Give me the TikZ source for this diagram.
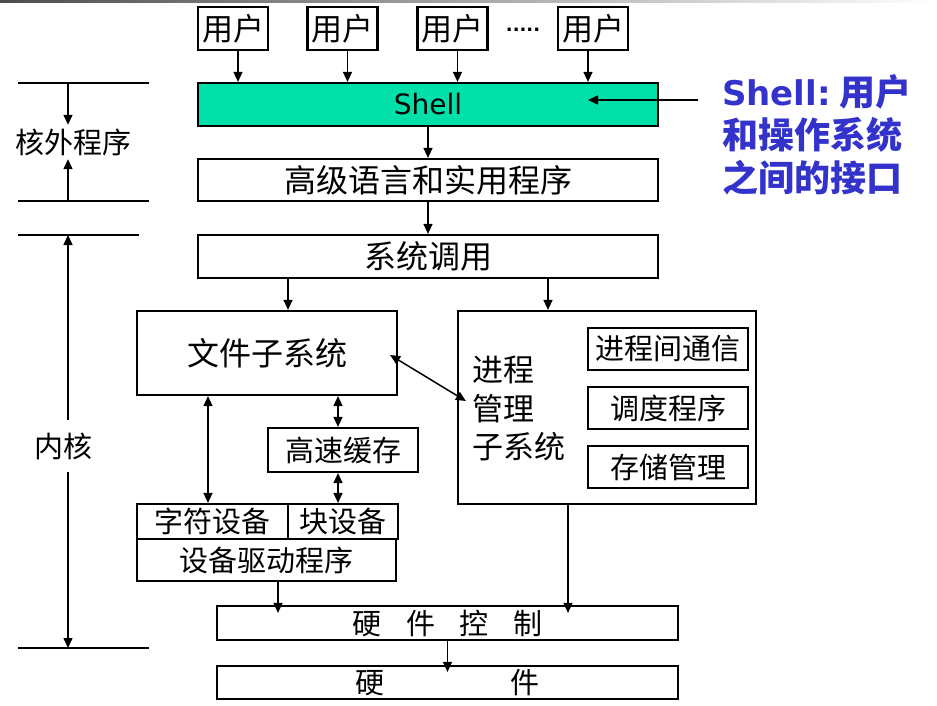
\documentclass[tikz,border=0pt]{standalone}
\usepackage{fontspec}
\setmainfont{DejaVu Sans}
\newfontfamily\cjk{Noto Sans CJK SC}
\usetikzlibrary{arrows.meta,calc}
\definecolor{shellgreen}{RGB}{0,224,168}
\definecolor{noteblue}{RGB}{51,51,204}
\begin{document}
\begin{tikzpicture}[x=1pt,y=-1pt,
  box/.style={draw, line width=2.2pt, inner sep=0pt, font=\cjk\fontsize{32}{38}\selectfont},
  sbox/.style={box, font=\cjk\fontsize{29}{34}\selectfont},
  arr/.style={line width=1.5pt, -{Triangle[length=10pt,width=9pt]}},
  darr/.style={line width=1.5pt, {Triangle[length=10pt,width=9pt]}-{Triangle[length=10pt,width=9pt]}},
  lab/.style={inner sep=0pt, font=\cjk\fontsize{29}{34}\selectfont},
  rulel/.style={line width=2.2pt}]
\useasboundingbox (0,0) rectangle (937,706);
\shade[left color=black!70, right color=white] (0,0) rectangle (937,3);

% users
\node[box, minimum width=70pt, minimum height=43pt, font=\cjk\fontsize{31}{36}\selectfont] (u1) at (233,28.5) {用户};
\node[box, minimum width=70pt, minimum height=43pt, font=\cjk\fontsize{31}{36}\selectfont] (u2) at (342.5,28.5) {用户};
\node[box, minimum width=70pt, minimum height=43pt, font=\cjk\fontsize{31}{36}\selectfont] (u3) at (452.5,28.5) {用户};
\node[box, minimum width=70pt, minimum height=43pt, font=\cjk\fontsize{31}{36}\selectfont] (u4) at (593,28.5) {用户};
\node[inner sep=0pt, font=\fontsize{18}{20}\selectfont\bfseries] (dots) at (523,30) {.....};

% main stack
\node[box, fill=shellgreen, minimum width=460pt, minimum height=43pt, font=\fontsize{28}{32}\selectfont] (shell) at (428,104.5) {Shell};
\node[box, minimum width=460pt, minimum height=42pt] (hl) at (428,180) {高级语言和实用程序};
\node[box, minimum width=460pt, minimum height=43pt] (sys) at (428,256.5) {系统调用};
\node[box, minimum width=260pt, minimum height=84pt] (fs) at (267,353) {文件子系统};
\node[box, minimum width=298pt, minimum height=193pt] (pm) at (607,407.5) {};
\node[anchor=north west, inner sep=0pt, align=left, font=\cjk\fontsize{31}{38.5}\selectfont] (pmlab) at (472,356) {进程\\管理\\子系统};
\node[sbox, minimum width=160pt, minimum height=42pt] (ipc) at (668,349) {进程间通信};
\node[sbox, minimum width=160pt, minimum height=42pt] (sched) at (668,408) {调度程序};
\node[sbox, minimum width=160pt, minimum height=42pt] (mem) at (668,467) {存储管理};
\node[sbox, minimum width=150pt, minimum height=44pt] (cache) at (343,450) {高速缓存};
\node[sbox, minimum width=151pt, minimum height=35pt] (cd) at (212.5,521.5) {字符设备};
\node[sbox, minimum width=110pt, minimum height=35pt] (bd) at (343,521.5) {块设备};
\node[sbox, minimum width=259pt, minimum height=42pt] (ddp) at (266.5,560) {设备驱动程序};
\node[sbox, minimum width=461pt, minimum height=34pt] (hc) at (447.5,623) {硬\hspace{25pt}件\hspace{25pt}控\hspace{25pt}制};
\node[sbox, minimum width=461pt, minimum height=33pt] (hw) at (447.5,682.5) {硬\hspace{126pt}件};

% connectors
\draw[arr] ($(u1.south)+(5,0)$) -- ($(u1.south |- shell.north)+(5,0)$);
\draw[arr] ($(u2.south)+(5,0)$) -- ($(u2.south |- shell.north)+(5,0)$);
\draw[arr] ($(u3.south)+(5,0)$) -- ($(u3.south |- shell.north)+(5,0)$);
\draw[arr] ($(u4.south)+(-5,0)$) -- ($(u4.south |- shell.north)+(-5,0)$);
\draw[arr] (shell.south) -- (hl.north);
\draw[arr] (hl.south) -- (sys.north);
\draw[arr] ($(sys.south)+(-140,0)$) -- ($(sys.south |- fs.north)+(-140,0)$);
\draw[arr] ($(sys.south)+(120,0)$) -- ($(sys.south |- pm.north)+(120,0)$);
\draw[darr] ($(fs.east)+(-8,2)$) -- ($(pm.west)+(9,-6.5)$);
\draw[darr] ($(fs.south)+(-59,0)$) -- ($(fs.south |- cd.north)+(-59,0)$);
\draw[darr] ($(cache.north |- fs.south)+(-5,0)$) -- ($(cache.north)+(-5,0)$);
\draw[darr] ($(cache.south)+(-5,0)$) -- ($(cache.south |- bd.north)+(-5,0)$);
\draw[arr] ($(ddp.south)+(11.5,0)$) -- ($(ddp.south |- hc.north)+(11.5,8)$);
\draw[arr] ($(pm.south)+(-39,0)$) -- ($(pm.south |- hc.north)+(-39,8)$);
\draw[arr] (hc.south) -- ($(hc.south |- hw.north)+(0,7)$);

% callout
\node[anchor=north west, inner sep=0pt, align=left, text=noteblue, font=\fontsize{36}{43}\selectfont\bfseries] (note) at (722,74)
  {{\fontsize{34}{43}\selectfont Shell:}\hspace{9pt}{\cjk 用户}\\{\cjk 和操作系统}\\{\cjk 之间的接口}};
\coordinate (callout) at (698,100);
\draw[arr] (callout) -- ($(u4.south |- callout)+(-5,0)$);

% left annotation
\draw[rulel] (18,83) -- (149,83);
\draw[rulel] (18,201) -- (149,201);
\draw[rulel] (18,235) -- (139,235);
\draw[rulel] (18,648) -- (149,648);
\coordinate (t1) at (68,83);
\coordinate (t2) at (68,201);
\coordinate (k1) at (68,235);
\coordinate (k2) at (68,648);
\node[lab, minimum height=34pt] (kw) at (73,142) {核外程序};
\node[lab, minimum height=52pt] (nk) at (63.5,446) {内核};
\draw[arr] (t1) -- (t1 |- kw.north);
\draw[arr] (t2) -- (t2 |- kw.south);
\draw[arr] (k1 |- nk.north) -- (k1);
\draw[arr] (k2 |- nk.south) -- (k2);
\end{tikzpicture}
\end{document}
